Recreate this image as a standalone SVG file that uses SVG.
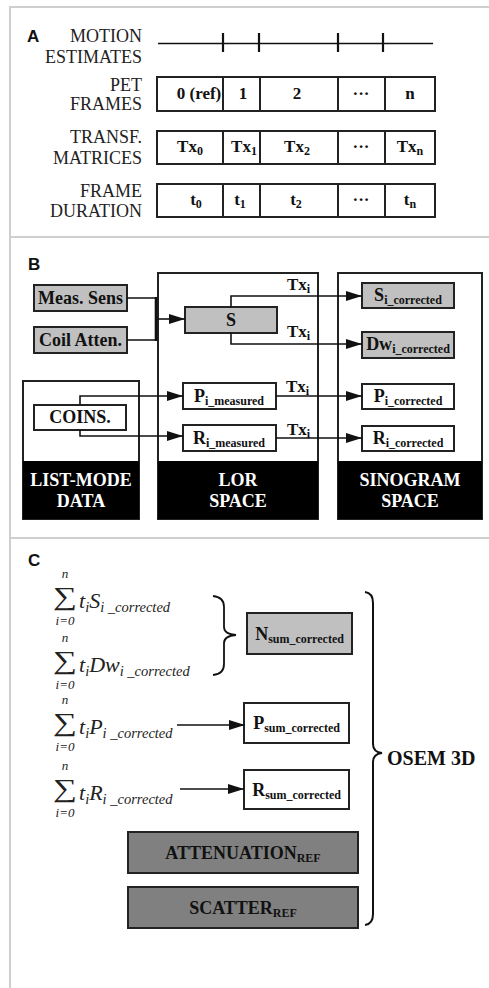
<svg xmlns="http://www.w3.org/2000/svg" width="489" height="988" viewBox="0 0 489 988">
<style>
.bg{fill:#fff}
.panel{stroke:#cfcfcf;stroke-width:2;fill:none}
.lbl{font-family:"Liberation Serif",serif;font-size:18px;fill:#222;text-anchor:end}
.hdr{font-family:"Liberation Sans",sans-serif;font-weight:bold;font-size:17px;fill:#111}
.box{fill:#fff;stroke:#222;stroke-width:2}
.lg{fill:#c0c0c0;stroke:#222;stroke-width:2}
.dg{fill:#808080;stroke:#222;stroke-width:2}
.blk{fill:#000}
.bt{font-family:"Liberation Serif",serif;font-weight:bold;font-size:18px;fill:#111;text-anchor:middle}
.ct{font-family:"Liberation Serif",serif;font-weight:bold;font-size:17px;fill:#111;text-anchor:middle}
.wt{font-family:"Liberation Serif",serif;font-weight:bold;font-size:18px;fill:#fff;text-anchor:middle}
.sub{font-size:12px}
.tx{font-family:"Liberation Serif",serif;font-weight:bold;font-size:17px;fill:#111}
.m{font-family:"Liberation Serif",serif;font-style:italic;font-size:22px;fill:#222}
.ms{font-size:14.5px}
.sm{font-family:"Liberation Serif",serif;font-style:italic;font-size:13px;fill:#222;text-anchor:middle}
.sig{font-family:"Liberation Serif",serif;font-size:26px;fill:#222;text-anchor:middle}
.ln{stroke:#111;stroke-width:1.6;fill:none}
.ar{stroke:#111;stroke-width:1.6;fill:none;marker-end:url(#ah)}
</style>
<defs>
<marker id="ah" markerUnits="userSpaceOnUse" markerWidth="17" markerHeight="11" refX="16" refY="5" orient="auto">
<path d="M0,0 L16,5 L0,10 z" fill="#111"/>
</marker>
</defs>
<rect class="bg" x="0" y="0" width="489" height="988"/>
<g id="panels">
<path class="panel" d="M489,7 H10 V988 M10,237 H489 M10,538 H489"/>
</g>

<!-- Section A -->
<g id="sectionA">
<text class="hdr" x="27" y="42">A</text>
<text class="lbl" x="142" y="42">MOTION</text>
<text class="lbl" x="142" y="63">ESTIMATES</text>
<text class="lbl" x="142" y="91">PET</text>
<text class="lbl" x="142" y="110">FRAMES</text>
<text class="lbl" x="142" y="143">TRANSF.</text>
<text class="lbl" x="142" y="164">MATRICES</text>
<text class="lbl" x="142" y="197">FRAME</text>
<text class="lbl" x="142" y="217">DURATION</text>
</g>
<g id="motion-estimates">
<path class="ln" d="M158,43.5 H433"/>
<path stroke="#111" stroke-width="2.2" d="M223,33 V52 M259,33 V52 M338,33 V52 M383,33 V52"/>
</g>
<g id="pet-frames">
<rect class="box" x="157" y="77" width="278" height="34"/>
<path stroke="#222" stroke-width="2" d="M223,77 V111 M260,77 V111 M338,77 V111 M385,77 V111"/>
<text class="ct" x="199" y="99">0 (ref)</text>
<text class="ct" x="243" y="99">1</text>
<text class="ct" x="297" y="99">2</text>
<text class="ct" x="361" y="99">···</text>
<text class="ct" x="410" y="99">n</text>
</g>
<g id="transf-matrices">
<rect class="box" x="157" y="131" width="278" height="33"/>
<path stroke="#222" stroke-width="2" d="M223,131 V164 M260,131 V164 M338,131 V164 M385,131 V164"/>
<text class="ct" x="190" y="152">Tx<tspan class="sub" dy="3">0</tspan></text>
<text class="ct" x="244" y="152">Tx<tspan class="sub" dy="3">1</tspan></text>
<text class="ct" x="297" y="152">Tx<tspan class="sub" dy="3">2</tspan></text>
<text class="ct" x="361" y="152">···</text>
<text class="ct" x="410" y="152">Tx<tspan class="sub" dy="3">n</tspan></text>
</g>
<g id="frame-duration">
<rect class="box" x="157" y="184" width="278" height="33"/>
<path stroke="#222" stroke-width="2" d="M223,184 V217 M260,184 V217 M338,184 V217 M385,184 V217"/>
<text class="ct" x="196" y="205">t<tspan class="sub" dy="3">0</tspan></text>
<text class="ct" x="240" y="205">t<tspan class="sub" dy="3">1</tspan></text>
<text class="ct" x="296" y="205">t<tspan class="sub" dy="3">2</tspan></text>
<text class="ct" x="361" y="205">···</text>
<text class="ct" x="410" y="205">t<tspan class="sub" dy="3">n</tspan></text>
</g>

<!-- Section B -->
<text class="hdr" x="28" y="270">B</text>
<g id="list-mode">
<rect class="box" x="23" y="381" width="116" height="138"/>
<rect class="blk" x="23" y="461" width="116" height="58"/>
<text class="wt" x="81" y="486">LIST-MODE</text>
<text class="wt" x="81" y="507">DATA</text>
</g>
<g id="lor-space">
<rect class="box" x="158" y="273" width="160" height="246"/>
<rect class="blk" x="158" y="461" width="160" height="58"/>
<text class="wt" x="238" y="486">LOR</text>
<text class="wt" x="238" y="507">SPACE</text>
</g>
<g id="sinogram-space">
<rect class="box" x="338" y="273" width="144" height="246"/>
<rect class="blk" x="338" y="461" width="144" height="58"/>
<text class="wt" x="410" y="486">SINOGRAM</text>
<text class="wt" x="410" y="507">SPACE</text>
</g>
<g id="meas-sens">
<rect class="lg" x="34" y="285" width="93" height="26"/>
<text class="bt" x="80.5" y="304">Meas. Sens</text>
</g>
<g id="coil-atten">
<rect class="lg" x="34" y="327" width="93" height="26"/>
<text class="bt" x="80.5" y="346">Coil Atten.</text>
</g>
<g id="coins">
<rect class="box" x="34" y="405" width="92" height="25"/>
<text class="bt" x="80" y="423">COINS.</text>
</g>
<g id="s">
<rect class="lg" x="185" y="307" width="92" height="26"/>
<text class="bt" x="231" y="326">S</text>
</g>
<g id="p-measured">
<rect class="box" x="183" y="383" width="93" height="26"/>
<text class="bt" x="229" y="402">P<tspan class="sub" dy="3">i_measured</tspan></text>
</g>
<g id="r-measured">
<rect class="box" x="183" y="425" width="93" height="26"/>
<text class="bt" x="229" y="444">R<tspan class="sub" dy="3">i_measured</tspan></text>
</g>
<g id="s-corrected">
<rect class="lg" x="362" y="283" width="92" height="25"/>
<text class="bt" x="408" y="301">S<tspan class="sub" dy="3">i_corrected</tspan></text>
</g>
<g id="dw-corrected">
<rect class="lg" x="362" y="332" width="92" height="26"/>
<text class="bt" x="408" y="350">Dw<tspan class="sub" dy="3">i_corrected</tspan></text>
</g>
<g id="p-corrected">
<rect class="box" x="362" y="384" width="92" height="25"/>
<text class="bt" x="408" y="402">P<tspan class="sub" dy="3">i_corrected</tspan></text>
</g>
<g id="r-corrected">
<rect class="box" x="362" y="426" width="92" height="25"/>
<text class="bt" x="408" y="444">R<tspan class="sub" dy="3">i_corrected</tspan></text>
</g>

<!-- Section C -->
<text class="hdr" x="28" y="566">C</text>
<g id="sum-s">
<text class="sm" x="65" y="578">n</text>
<text class="sig" transform="translate(65,605) scale(1.3,1)">∑</text>
<text class="sm" x="65" y="625">i=0</text>
<text class="m" x="79" y="608">t<tspan class="ms" dy="4">i</tspan><tspan dy="-4">S</tspan><tspan class="ms" dy="4">i _corrected</tspan></text>
</g>
<g id="sum-dw">
<text class="sm" x="65" y="642">n</text>
<text class="sig" transform="translate(65,669) scale(1.3,1)">∑</text>
<text class="sm" x="65" y="689">i=0</text>
<text class="m" x="79" y="672">t<tspan class="ms" dy="4">i</tspan><tspan dy="-4">Dw</tspan><tspan class="ms" dy="4">i _corrected</tspan></text>
</g>
<g id="sum-p">
<text class="sm" x="65" y="704">n</text>
<text class="sig" transform="translate(65,731) scale(1.3,1)">∑</text>
<text class="sm" x="65" y="751">i=0</text>
<text class="m" x="79" y="734">t<tspan class="ms" dy="4">i</tspan><tspan dy="-4">P</tspan><tspan class="ms" dy="4">i _corrected</tspan></text>
</g>
<g id="sum-r">
<text class="sm" x="65" y="770">n</text>
<text class="sig" transform="translate(65,797) scale(1.3,1)">∑</text>
<text class="sm" x="65" y="817">i=0</text>
<text class="m" x="79" y="800">t<tspan class="ms" dy="4">i</tspan><tspan dy="-4">R</tspan><tspan class="ms" dy="4">i _corrected</tspan></text>
</g>
<g id="n-sum">
<rect class="lg" x="247" y="613" width="105" height="41"/>
<text class="bt" x="299.5" y="640">N<tspan class="sub" dy="3">sum_corrected</tspan></text>
</g>
<g id="p-sum">
<rect class="box" x="244" y="703" width="105" height="40"/>
<text class="bt" x="296.5" y="729">P<tspan class="sub" dy="3">sum_corrected</tspan></text>
</g>
<g id="r-sum">
<rect class="box" x="244" y="770" width="105" height="39"/>
<text class="bt" x="296.5" y="796">R<tspan class="sub" dy="3">sum_corrected</tspan></text>
</g>
<g id="attenuation">
<rect class="dg" x="128" y="832" width="230" height="41"/>
<text class="bt" x="243" y="859">ATTENUATION<tspan class="sub" dy="3">REF</tspan></text>
</g>
<g id="scatter">
<rect class="dg" x="128" y="887" width="230" height="41"/>
<text class="bt" x="243" y="914">SCATTER<tspan class="sub" dy="3">REF</tspan></text>
</g>
<g id="osem">
<text class="bt" x="387" y="765" style="text-anchor:start;font-size:20px">OSEM 3D</text>
</g>

<g id="connectors">
<path class="ln" d="M127,298 H155 M127,340 H155"/>
<path stroke="#111" stroke-width="2.6" fill="none" d="M156,297 V341"/>
<path class="ar" d="M156,319 H185"/>
<path class="ar" d="M231,307 V296 H362"/>
<path class="ar" d="M231,333 V344 H362"/>
<path class="ar" d="M80,405 V396 H183"/>
<path class="ar" d="M80,430 V436 H183"/>
<path class="ar" d="M276,396 H362"/>
<path class="ar" d="M276,438 H362"/>
<text class="tx" x="287" y="290">Tx<tspan class="sub" dy="3">i</tspan></text>
<text class="tx" x="287" y="337">Tx<tspan class="sub" dy="3">i</tspan></text>
<text class="tx" x="286" y="392">Tx<tspan class="sub" dy="3">i</tspan></text>
<text class="tx" x="287" y="435">Tx<tspan class="sub" dy="3">i</tspan></text>
<path class="ar" d="M177,725 H245"/>
<path class="ar" d="M180,789 H244"/>
<path stroke="#111" stroke-width="1.8" fill="none" d="M213,596 Q224,597 224,607 L224,627 Q224,634 236,635 Q224,636 224,643 L224,664 Q224,674 213,675"/>
<path stroke="#111" stroke-width="2" fill="none" d="M365,592 Q373,593 373,603 L373,744 Q373,752 382,753 Q373,754 373,762 L373,914 Q373,924 365,925"/>
</g>
</svg>
